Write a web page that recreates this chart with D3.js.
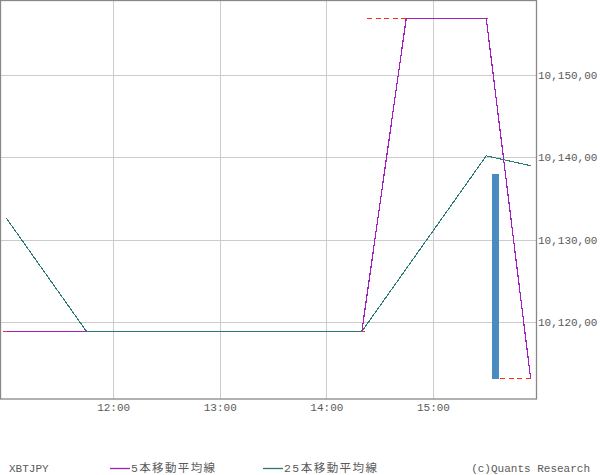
<!DOCTYPE html>
<html><head><meta charset="utf-8">
<script src="https://cdn.jsdelivr.net/npm/d3@7"></script>
<style>
html,body{margin:0;padding:0;background:#fff;}
text{font-family:"Liberation Mono","DejaVu Sans Mono","Noto Sans CJK JP",monospace;}
</style></head>
<body>
<svg id="c" width="600" height="475"></svg>
<script>
// ---- data ----
const xTickTimes = ["12:00","13:00","14:00","15:00"];
const yTicks = [10120, 10130, 10140, 10150];
const yTickLabels = ["10,120,00","10,130,00","10,140,00","10,150,00"];
const ma5Times = ["11:00","14:20","14:45","15:30","15:55"];
const ma5Values = [10118.9, 10118.9, 10156.9, 10156.9, 10113.2];
const ma25Times = ["11:00","11:45","14:20","15:30","15:55"];
const ma25Values = [10132.6, 10118.9, 10118.9, 10140.2, 10139.0];
const barTime = ["15:35"];
const barLow = [10113.1];
const barHigh = [10138.0];
const refStart = ["10:58","14:23","15:38"];
const refEnd = ["14:22","15:31","15:57"];
const refValue = [10118.9, 10156.9, 10113.2];
const xDomain = ["10:56:36","15:58:18"];
const yDomain = [10110.7, 10159.04];
const legendNames = ["5本移動平均線","25本移動平均線"];
const symbol = "XBTJPY";
const credit = "(c)Quants Research";

const parse = d3.timeParse("%Y-%m-%d %H:%M:%S");
const t = s => parse("2000-01-01 " + (s.length === 5 ? s + ":00" : s));

const svg = d3.select("#c");
const L = 0.5, R = 536.5, T = 0.5, B = 399;
const x = d3.scaleTime().domain(xDomain.map(t)).range([L, R]);
const y = d3.scaleLinear().domain(yDomain).range([B, T]);

const gridColor = "#cccccc", txtColor = "#5a5a5a";

// grid
svg.append("g").selectAll("line").data(xTickTimes).join("line")
  .attr("x1", d => Math.round(x(t(d))) + 0.5).attr("x2", d => Math.round(x(t(d))) + 0.5)
  .attr("y1", T).attr("y2", B).attr("stroke", gridColor).attr("stroke-width", 1);
svg.append("g").selectAll("line").data(yTicks).join("line")
  .attr("y1", d => Math.round(y(d)) + 0.5).attr("y2", d => Math.round(y(d)) + 0.5)
  .attr("x1", L).attr("x2", R).attr("stroke", gridColor).attr("stroke-width", 1);

// axes (labels only, via d3 axes)
const xAxis = d3.axisBottom(x).tickValues(xTickTimes.map(t)).tickFormat(d3.timeFormat("%H:%M")).tickSize(0).tickPadding(4);
const gx = svg.append("g").attr("transform", `translate(0,${B})`).call(xAxis);
gx.select(".domain").remove();
gx.selectAll("text").attr("fill", txtColor).attr("font-size", "11px").attr("font-family", "Liberation Mono");

const yAxis = d3.axisRight(y).tickValues(yTicks).tickFormat((d, i) => yTickLabels[i]).tickSize(0).tickPadding(1.5);
const gy = svg.append("g").attr("transform", `translate(${R},0)`).call(yAxis);
gy.select(".domain").remove();
gy.selectAll("text").attr("fill", txtColor).attr("font-size", "11px").attr("font-family", "Liberation Mono");

// reference dashed lines
svg.append("g").selectAll("line").data(refValue).join("line")
  .attr("x1", (d, i) => x(t(refStart[i]))).attr("x2", (d, i) => x(t(refEnd[i])))
  .attr("y1", d => y(d)).attr("y2", d => y(d))
  .attr("stroke", "#ff2a1a").attr("stroke-width", 1).attr("stroke-dasharray", "5,3.5")
  .attr("shape-rendering", "crispEdges");

// lines
const line = d3.line().x(d => x(t(d[0]))).y(d => y(d[1]));
svg.append("path").datum(ma5Times.map((d, i) => [d, ma5Values[i]]))
  .attr("d", line).attr("fill", "none").attr("stroke", "#a020c0").attr("stroke-width", 1.2)
  .attr("shape-rendering", "crispEdges");
svg.append("path").datum(ma25Times.map((d, i) => [d, ma25Values[i]]))
  .attr("d", line).attr("fill", "none").attr("stroke", "#2b7a78").attr("stroke-width", 1.1)
  .attr("shape-rendering", "crispEdges");

// bar
svg.append("g").selectAll("rect").data(barTime).join("rect")
  .attr("x", d => x(t(d)) - 3.5).attr("width", 7)
  .attr("y", (d, i) => y(barHigh[i])).attr("height", (d, i) => y(barLow[i]) - y(barHigh[i]))
  .attr("fill", "#4a8cc2").attr("shape-rendering", "crispEdges");

// frame
svg.append("rect").attr("x", L).attr("y", T).attr("width", R - L).attr("height", B - T)
  .attr("fill", "none").attr("stroke", "#888").attr("stroke-width", 1.3);

// legend
const ly = 468;
svg.append("text").attr("x", 9).attr("y", ly).attr("dy", "0.35em").attr("font-size", "11px").attr("fill", txtColor).text(symbol);
const legColors = ["#a020c0", "#2b7a78"];
const legX = [110, 263];
const legLen = [84, 93];
legendNames.forEach((n, i) => {
  svg.append("line").attr("x1", legX[i]).attr("x2", legX[i] + 20).attr("y1", ly + 0.5).attr("y2", ly + 0.5)
    .attr("stroke", legColors[i]).attr("stroke-width", 1.3);
  svg.append("text").attr("x", legX[i] + 21).attr("y", ly).attr("dy", "0.35em").attr("font-size", "11.5px")
    .attr("fill", txtColor).attr("textLength", legLen[i]).attr("lengthAdjust", "spacing").text(n);
});
svg.append("text").attr("x", 590).attr("y", ly).attr("dy", "0.35em").attr("text-anchor", "end")
  .attr("font-size", "11px").attr("fill", txtColor).text(credit);
</script>
</body></html>
